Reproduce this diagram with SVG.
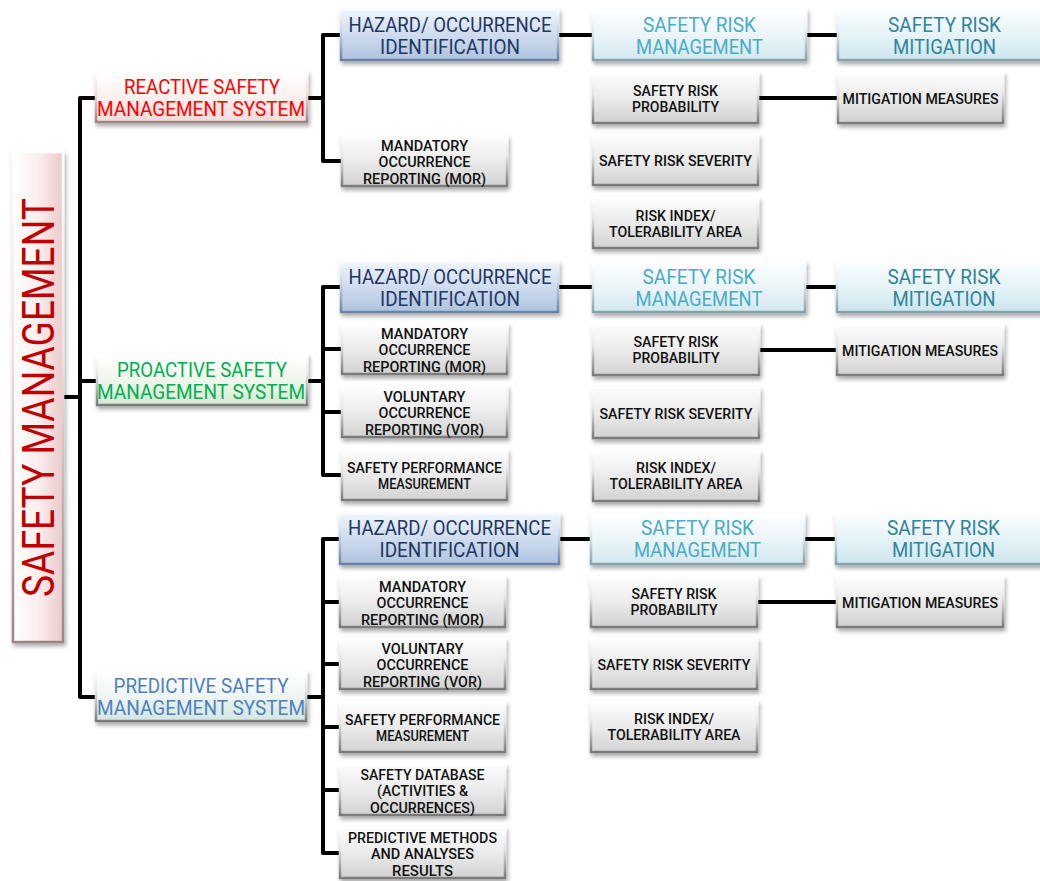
<svg xmlns="http://www.w3.org/2000/svg" width="1040" height="881" viewBox="0 0 1040 881">
<defs>
<style>
.t{font-family:Roboto,"Liberation Sans",sans-serif;text-anchor:middle}
.b{font-size:21px}
.s{font-size:14px;fill:#111;font-weight:500}
.r{font-size:44px;fill:#c00000}
.box{filter:url(#sh);stroke-width:2.5}
.gray{fill:url(#gGray);stroke:url(#eGray)}
.haz{fill:url(#gHaz);stroke:url(#eHaz)}
.srm{fill:url(#gSrm);stroke:url(#eSrm)}
.mit{fill:url(#gMit);stroke:url(#eSrm)}
.rea{fill:url(#gRea);stroke:url(#eRea)}
.pro{fill:url(#gPro);stroke:url(#eGray)}
.pre{fill:url(#gPre);stroke:url(#eGray)}
.root{fill:url(#gRoot);stroke:url(#eRea)}
.cn{fill:none;stroke:#000;stroke-width:4;stroke-linejoin:round}
</style>
<filter id="sh" x="-10%" y="-20%" width="130%" height="160%">
<feDropShadow dx="1.5" dy="3" stdDeviation="2" flood-color="#000" flood-opacity="0.35"/>
</filter>
<linearGradient id="gGray" x1="0" y1="0" x2="0" y2="1"><stop offset="0" stop-color="#fdfdfd"/><stop offset="0.5" stop-color="#ebebeb"/><stop offset="1" stop-color="#d2d2d2"/></linearGradient>
<linearGradient id="eGray" x1="0" y1="0" x2="0" y2="1"><stop offset="0" stop-color="#ffffff"/><stop offset="0.4" stop-color="#e6e6e6"/><stop offset="1" stop-color="#7a7a7a"/></linearGradient>
<linearGradient id="gHaz" x1="0" y1="0" x2="0" y2="1"><stop offset="0" stop-color="#eef4fb"/><stop offset="0.5" stop-color="#cfdcee"/><stop offset="1" stop-color="#aec3df"/></linearGradient>
<linearGradient id="eHaz" x1="0" y1="0" x2="0" y2="1"><stop offset="0" stop-color="#f8fbff"/><stop offset="0.4" stop-color="#c9d8ec"/><stop offset="1" stop-color="#6a82a3"/></linearGradient>
<linearGradient id="gSrm" x1="0" y1="0" x2="0" y2="1"><stop offset="0" stop-color="#fdfeff"/><stop offset="0.5" stop-color="#ebf5f9"/><stop offset="1" stop-color="#d3e8ef"/></linearGradient>
<linearGradient id="gMit" x1="0" y1="0" x2="0" y2="1"><stop offset="0" stop-color="#fbfeff"/><stop offset="0.5" stop-color="#e5f3f7"/><stop offset="1" stop-color="#cce6ee"/></linearGradient>
<linearGradient id="eSrm" x1="0" y1="0" x2="0" y2="1"><stop offset="0" stop-color="#ffffff"/><stop offset="0.4" stop-color="#e2eff4"/><stop offset="1" stop-color="#84a1ab"/></linearGradient>
<linearGradient id="gRea" x1="0" y1="0" x2="0" y2="1"><stop offset="0" stop-color="#ffffff"/><stop offset="0.5" stop-color="#fbf1f0"/><stop offset="1" stop-color="#f0dcda"/></linearGradient>
<linearGradient id="eRea" x1="0" y1="0" x2="0" y2="1"><stop offset="0" stop-color="#ffffff"/><stop offset="0.4" stop-color="#f2e2e2"/><stop offset="1" stop-color="#9a8585"/></linearGradient>
<linearGradient id="gPro" x1="0" y1="0" x2="0" y2="1"><stop offset="0" stop-color="#ffffff"/><stop offset="0.5" stop-color="#f1f6ec"/><stop offset="1" stop-color="#d9e7d2"/></linearGradient>
<linearGradient id="gPre" x1="0" y1="0" x2="0" y2="1"><stop offset="0" stop-color="#ffffff"/><stop offset="0.5" stop-color="#eef6f4"/><stop offset="1" stop-color="#d2e6e3"/></linearGradient>
<linearGradient id="gRoot" x1="0" y1="0" x2="1" y2="0"><stop offset="0" stop-color="#ffffff"/><stop offset="0.5" stop-color="#fbeeee"/><stop offset="1" stop-color="#eccaca"/></linearGradient>
</defs>
<rect width="1040" height="881" fill="#ffffff"/>

<g id="connectors">
<path class="cn" d="M62,397 H80"/>
<path class="cn" d="M97,98 H80 V697 H97 M80,381 H98"/>
<path class="cn" d="M307,98 H323 M342,35 H323 V161 H343"/>
<path class="cn" d="M558,35 H594 M806,35 H839 M758,98 H839"/>
<path class="cn" d="M307,381 H323 M342,287 H323 V475 H343 M323,349 H343 M323,412 H343"/>
<path class="cn" d="M558,287 H594 M805,287 H838 M759,350 H838"/>
<path class="cn" d="M306,697 H323 M341,539 H323 V853 H341 M323,602 H341 M323,664 H341 M323,727 H341 M323,790 H341"/>
<path class="cn" d="M559,539 H592 M804,539 H837 M757,602 H838"/>
</g>

<g id="root"><rect class="box root" x="13" y="152" width="50" height="490"/>
<text class="t r" transform="translate(54,397.5) rotate(-90)" textLength="399" lengthAdjust="spacingAndGlyphs">SAFETY MANAGEMENT</text></g>

<g id="reactive"><rect class="box rea" x="96" y="72" width="211" height="50"/>
<text class="t b" x="202" y="94" fill="#ff0000" textLength="156" lengthAdjust="spacingAndGlyphs">REACTIVE SAFETY</text>
<text class="t b" x="201" y="116" fill="#ff0000" textLength="208" lengthAdjust="spacingAndGlyphs">MANAGEMENT SYSTEM</text></g>

<g id="proactive"><rect class="box pro" x="97" y="355" width="210" height="50"/>
<text class="t b" x="202" y="377" fill="#00b050" textLength="170" lengthAdjust="spacingAndGlyphs">PROACTIVE SAFETY</text>
<text class="t b" x="201" y="399" fill="#00b050" textLength="208" lengthAdjust="spacingAndGlyphs">MANAGEMENT SYSTEM</text></g>

<g id="predictive"><rect class="box pre" x="96" y="671" width="210" height="50"/>
<text class="t b" x="201" y="693" fill="#4f81bd" textLength="175" lengthAdjust="spacingAndGlyphs">PREDICTIVE SAFETY</text>
<text class="t b" x="201" y="715" fill="#4f81bd" textLength="208" lengthAdjust="spacingAndGlyphs">MANAGEMENT SYSTEM</text></g>

<!-- Group 1 -->
<g id="g1-hazard"><rect class="box haz" x="341" y="10" width="217" height="50"/>
<text class="t b" x="450" y="32" fill="#1f3864" textLength="203" lengthAdjust="spacingAndGlyphs">HAZARD/ OCCURRENCE</text>
<text class="t b" x="450" y="54" fill="#1f3864" textLength="140" lengthAdjust="spacingAndGlyphs">IDENTIFICATION</text></g>
<g id="g1-mor"><rect class="box gray" x="342" y="136" width="165" height="50"/>
<text class="t s" x="424.5" y="150.5" textLength="87" lengthAdjust="spacingAndGlyphs">MANDATORY</text>
<text class="t s" x="424.5" y="167" textLength="92" lengthAdjust="spacingAndGlyphs">OCCURRENCE</text>
<text class="t s" x="424.5" y="183.5" textLength="123" lengthAdjust="spacingAndGlyphs">REPORTING (MOR)</text></g>
<g id="g1-srm"><rect class="box srm" x="593" y="10" width="213" height="50"/>
<text class="t b" x="699.5" y="32" fill="#4bacc6" textLength="113" lengthAdjust="spacingAndGlyphs">SAFETY RISK</text>
<text class="t b" x="699.5" y="54" fill="#4bacc6" textLength="127" lengthAdjust="spacingAndGlyphs">MANAGEMENT</text></g>
<g id="g1-mit"><rect class="box mit" x="838" y="10" width="212" height="50"/>
<text class="t b" x="944.5" y="32" fill="#31849b" textLength="113" lengthAdjust="spacingAndGlyphs">SAFETY RISK</text>
<text class="t b" x="944.5" y="54" fill="#31849b" textLength="103" lengthAdjust="spacingAndGlyphs">MITIGATION</text></g>
<g id="g1-prob"><rect class="box gray" x="593" y="73" width="165" height="50"/>
<text class="t s" x="675.5" y="95.5" textLength="85" lengthAdjust="spacingAndGlyphs">SAFETY RISK</text>
<text class="t s" x="675.5" y="111.5" textLength="87" lengthAdjust="spacingAndGlyphs">PROBABILITY</text></g>
<g id="g1-sev"><rect class="box gray" x="593" y="135" width="165" height="50"/>
<text class="t s" x="675.5" y="165.5" textLength="153" lengthAdjust="spacingAndGlyphs">SAFETY RISK SEVERITY</text></g>
<g id="g1-ri"><rect class="box gray" x="593" y="198" width="165" height="50"/>
<text class="t s" x="675.5" y="220.5" textLength="80" lengthAdjust="spacingAndGlyphs">RISK INDEX/</text>
<text class="t s" x="675.5" y="236.5" textLength="133" lengthAdjust="spacingAndGlyphs">TOLERABILITY AREA</text></g>
<g id="g1-mm"><rect class="box gray" x="838" y="73" width="165" height="50"/>
<text class="t s" x="920.5" y="103.5" textLength="156" lengthAdjust="spacingAndGlyphs">MITIGATION MEASURES</text></g>

<!-- Group 2 -->
<g id="g2-hazard"><rect class="box haz" x="341" y="262" width="217" height="50"/>
<text class="t b" x="450" y="284" fill="#1f3864" textLength="203" lengthAdjust="spacingAndGlyphs">HAZARD/ OCCURRENCE</text>
<text class="t b" x="450" y="306" fill="#1f3864" textLength="140" lengthAdjust="spacingAndGlyphs">IDENTIFICATION</text></g>
<g id="g2-mor"><rect class="box gray" x="342" y="324" width="165" height="50"/>
<text class="t s" x="424.5" y="338.5" textLength="87" lengthAdjust="spacingAndGlyphs">MANDATORY</text>
<text class="t s" x="424.5" y="355" textLength="92" lengthAdjust="spacingAndGlyphs">OCCURRENCE</text>
<text class="t s" x="424.5" y="371.5" textLength="123" lengthAdjust="spacingAndGlyphs">REPORTING (MOR)</text></g>
<g id="g2-vor"><rect class="box gray" x="342" y="387" width="165" height="50"/>
<text class="t s" x="424.5" y="401.5" textLength="82" lengthAdjust="spacingAndGlyphs">VOLUNTARY</text>
<text class="t s" x="424.5" y="418" textLength="92" lengthAdjust="spacingAndGlyphs">OCCURRENCE</text>
<text class="t s" x="424.5" y="434.5" textLength="119" lengthAdjust="spacingAndGlyphs">REPORTING (VOR)</text></g>
<g id="g2-spm"><rect class="box gray" x="342" y="450" width="165" height="50"/>
<text class="t s" x="424.5" y="472.5" textLength="155" lengthAdjust="spacingAndGlyphs">SAFETY PERFORMANCE</text>
<text class="t s" x="424.5" y="488.5" textLength="93" lengthAdjust="spacingAndGlyphs">MEASUREMENT</text></g>
<g id="g2-srm"><rect class="box srm" x="593" y="262" width="212" height="50"/>
<text class="t b" x="699" y="284" fill="#4bacc6" textLength="113" lengthAdjust="spacingAndGlyphs">SAFETY RISK</text>
<text class="t b" x="699" y="306" fill="#4bacc6" textLength="127" lengthAdjust="spacingAndGlyphs">MANAGEMENT</text></g>
<g id="g2-mit"><rect class="box mit" x="837" y="262" width="213" height="50"/>
<text class="t b" x="944" y="284" fill="#31849b" textLength="113" lengthAdjust="spacingAndGlyphs">SAFETY RISK</text>
<text class="t b" x="944" y="306" fill="#31849b" textLength="103" lengthAdjust="spacingAndGlyphs">MITIGATION</text></g>
<g id="g2-prob"><rect class="box gray" x="593" y="325" width="166" height="50"/>
<text class="t s" x="676" y="347" textLength="85" lengthAdjust="spacingAndGlyphs">SAFETY RISK</text>
<text class="t s" x="676" y="363" textLength="87" lengthAdjust="spacingAndGlyphs">PROBABILITY</text></g>
<g id="g2-sev"><rect class="box gray" x="593" y="388" width="166" height="50"/>
<text class="t s" x="676" y="418.5" textLength="153" lengthAdjust="spacingAndGlyphs">SAFETY RISK SEVERITY</text></g>
<g id="g2-ri"><rect class="box gray" x="593" y="451" width="166" height="50"/>
<text class="t s" x="676" y="473" textLength="80" lengthAdjust="spacingAndGlyphs">RISK INDEX/</text>
<text class="t s" x="676" y="489" textLength="133" lengthAdjust="spacingAndGlyphs">TOLERABILITY AREA</text></g>
<g id="g2-mm"><rect class="box gray" x="837" y="325" width="166" height="50"/>
<text class="t s" x="920" y="355.5" textLength="156" lengthAdjust="spacingAndGlyphs">MITIGATION MEASURES</text></g>

<!-- Group 3 -->
<g id="g3-hazard"><rect class="box haz" x="340" y="514" width="219" height="50"/>
<text class="t b" x="449.5" y="535" fill="#1f3864" textLength="203" lengthAdjust="spacingAndGlyphs">HAZARD/ OCCURRENCE</text>
<text class="t b" x="449.5" y="557" fill="#1f3864" textLength="140" lengthAdjust="spacingAndGlyphs">IDENTIFICATION</text></g>
<g id="g3-mor"><rect class="box gray" x="340" y="577" width="165" height="50"/>
<text class="t s" x="422.5" y="591.5" textLength="87" lengthAdjust="spacingAndGlyphs">MANDATORY</text>
<text class="t s" x="422.5" y="608" textLength="92" lengthAdjust="spacingAndGlyphs">OCCURRENCE</text>
<text class="t s" x="422.5" y="624.5" textLength="123" lengthAdjust="spacingAndGlyphs">REPORTING (MOR)</text></g>
<g id="g3-vor"><rect class="box gray" x="340" y="639" width="165" height="50"/>
<text class="t s" x="422.5" y="653.5" textLength="82" lengthAdjust="spacingAndGlyphs">VOLUNTARY</text>
<text class="t s" x="422.5" y="670" textLength="92" lengthAdjust="spacingAndGlyphs">OCCURRENCE</text>
<text class="t s" x="422.5" y="686.5" textLength="119" lengthAdjust="spacingAndGlyphs">REPORTING (VOR)</text></g>
<g id="g3-spm"><rect class="box gray" x="340" y="702" width="165" height="50"/>
<text class="t s" x="422.5" y="724.5" textLength="155" lengthAdjust="spacingAndGlyphs">SAFETY PERFORMANCE</text>
<text class="t s" x="422.5" y="740.5" textLength="93" lengthAdjust="spacingAndGlyphs">MEASUREMENT</text></g>
<g id="g3-db"><rect class="box gray" x="340" y="765" width="165" height="50"/>
<text class="t s" x="422.5" y="779.5" textLength="124" lengthAdjust="spacingAndGlyphs">SAFETY DATABASE</text>
<text class="t s" x="422.5" y="796" textLength="91" lengthAdjust="spacingAndGlyphs">(ACTIVITIES &amp;</text>
<text class="t s" x="422.5" y="812.5" textLength="105" lengthAdjust="spacingAndGlyphs">OCCURRENCES)</text></g>
<g id="g3-pm"><rect class="box gray" x="340" y="828" width="165" height="50"/>
<text class="t s" x="422.5" y="842.5" textLength="149" lengthAdjust="spacingAndGlyphs">PREDICTIVE METHODS</text>
<text class="t s" x="422.5" y="859" textLength="103" lengthAdjust="spacingAndGlyphs">AND ANALYSES</text>
<text class="t s" x="422.5" y="875.5" textLength="61" lengthAdjust="spacingAndGlyphs">RESULTS</text></g>
<g id="g3-srm"><rect class="box srm" x="591" y="514" width="213" height="50"/>
<text class="t b" x="697.5" y="535" fill="#4bacc6" textLength="113" lengthAdjust="spacingAndGlyphs">SAFETY RISK</text>
<text class="t b" x="697.5" y="557" fill="#4bacc6" textLength="127" lengthAdjust="spacingAndGlyphs">MANAGEMENT</text></g>
<g id="g3-mit"><rect class="box mit" x="836" y="514" width="214" height="50"/>
<text class="t b" x="943.5" y="535" fill="#31849b" textLength="113" lengthAdjust="spacingAndGlyphs">SAFETY RISK</text>
<text class="t b" x="943.5" y="557" fill="#31849b" textLength="103" lengthAdjust="spacingAndGlyphs">MITIGATION</text></g>
<g id="g3-prob"><rect class="box gray" x="591" y="577" width="166" height="50"/>
<text class="t s" x="674" y="599" textLength="85" lengthAdjust="spacingAndGlyphs">SAFETY RISK</text>
<text class="t s" x="674" y="615" textLength="87" lengthAdjust="spacingAndGlyphs">PROBABILITY</text></g>
<g id="g3-sev"><rect class="box gray" x="591" y="639" width="166" height="50"/>
<text class="t s" x="674" y="669.5" textLength="153" lengthAdjust="spacingAndGlyphs">SAFETY RISK SEVERITY</text></g>
<g id="g3-ri"><rect class="box gray" x="591" y="702" width="166" height="50"/>
<text class="t s" x="674" y="724" textLength="80" lengthAdjust="spacingAndGlyphs">RISK INDEX/</text>
<text class="t s" x="674" y="740" textLength="133" lengthAdjust="spacingAndGlyphs">TOLERABILITY AREA</text></g>
<g id="g3-mm"><rect class="box gray" x="837" y="577" width="166" height="50"/>
<text class="t s" x="920" y="607.5" textLength="156" lengthAdjust="spacingAndGlyphs">MITIGATION MEASURES</text></g>
</svg>
